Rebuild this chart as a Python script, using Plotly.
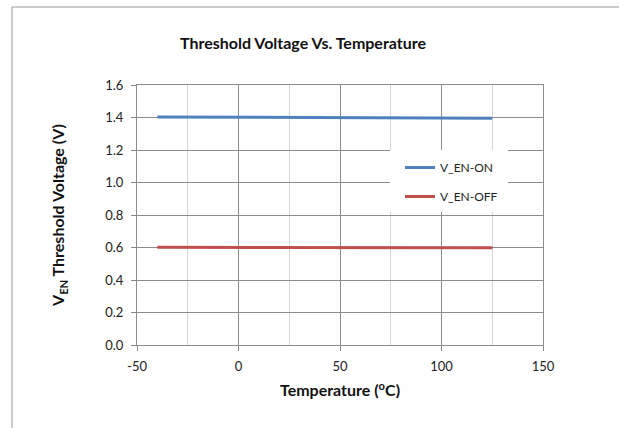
import plotly.graph_objects as go

temps = [-40, -25, 0, 25, 50, 75, 100, 125]
v_en_on = [1.403, 1.402, 1.401, 1.400, 1.399, 1.398, 1.397, 1.396]
v_en_off = [0.601, 0.601, 0.600, 0.600, 0.600, 0.600, 0.599, 0.599]

x_ticks = [-50, 0, 50, 100, 150]
x_tick_labels = ["-50", "0", "50", "100", "150"]
y_ticks = [0.0, 0.2, 0.4, 0.6, 0.8, 1.0, 1.2, 1.4, 1.6]

FONT = "Lato"

fig = go.Figure()
fig.add_trace(go.Scatter(x=temps, y=v_en_on, mode="lines", name="V_EN-ON", legendgroup="a",
                         line=dict(color="#4F81BD", width=3)))
fig.add_trace(go.Scatter(x=temps, y=v_en_off, mode="lines", name="V_EN-OFF", legendgroup="b",
                         line=dict(color="#C0504D", width=3)))

L, R, T, B = 137, 76, 85, 83
W, H = 619, 428
pw, ph = W - L - R, H - T - B

fig.update_layout(
    width=W, height=H,
    margin=dict(l=L, r=R, t=T, b=B),
    paper_bgcolor="white", plot_bgcolor="white",
    font=dict(family=FONT, size=13, color="#222"),
    title=dict(text="<b>Threshold Voltage Vs. Temperature</b>", x=(178 + 428) / 2 / W, xanchor="center",
               y=1 - 43 / H, yanchor="middle", font=dict(family=FONT, size=16, color="#111")),
    xaxis=dict(range=[-50, 150], tickvals=x_ticks, ticktext=x_tick_labels, ticks="outside", ticklen=5,
               automargin=False, ticklabelstandoff=4,
               tickcolor="#888", showgrid=True, gridcolor="#8c8c8c", gridwidth=1,
               minor=dict(dtick=25, tick0=-25, showgrid=True, gridcolor="#d6d6d6", gridwidth=1),
               showline=True, linecolor="#8c8c8c", mirror=True, zeroline=False,
               title=dict(text="<b>Temperature (<sup>o</sup>C)</b>", font=dict(size=16, color="#111"), standoff=12),
               tickfont=dict(size=13)),
    yaxis=dict(range=[0, 1.6], tickvals=y_ticks, tickformat=".1f", ticks="outside", ticklen=5, automargin=False,
               ticklabelstandoff=5,
               tickcolor="#888", showgrid=True, gridcolor="#8c8c8c", gridwidth=1,
               showline=True, linecolor="#8c8c8c", mirror=True, zeroline=False,
               title=dict(text="<b>V<sub>EN</sub> Threshold Voltage (V)</b>", font=dict(size=16, color="#111"), standoff=36),
               tickfont=dict(size=13)),
    legend=dict(x=(400 - L) / pw, y=1 - (153 - T) / ph, xanchor="left", yanchor="top", bgcolor="white",
                font=dict(size=12, color="#222"), itemwidth=30, tracegroupgap=10),
    shapes=[
        dict(type="rect", xref="paper", yref="paper",
             x0=(12 - L) / pw, x1=1.4, y0=-0.6, y1=1 + (T - 7) / ph,
             line=dict(color="#999", width=1), fillcolor="rgba(0,0,0,0)", layer="below"),
        dict(type="rect", xref="paper", yref="paper",
             x0=(390 - L) / pw, x1=(508 - L) / pw, y0=1 - (212 - T) / ph, y1=1 - (150 - T) / ph,
             line=dict(width=0), fillcolor="white", layer="above"),
    ],
    showlegend=True,
)

fig.write_html("out.html", config={"displayModeBar": False},
               post_script="document.body.style.margin='0';")
